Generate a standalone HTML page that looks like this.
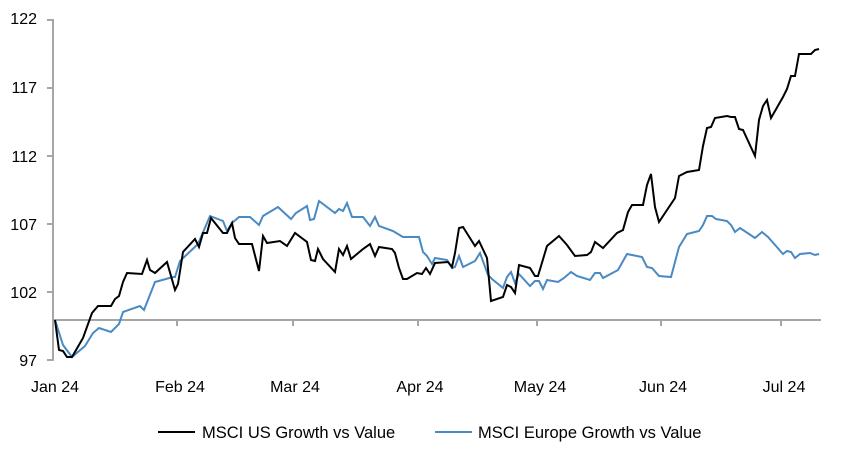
<!DOCTYPE html>
<html><head><style>body{margin:0;background:#fff}svg{display:block}text{font-family:"Liberation Sans",Arial,sans-serif;font-size:16px;fill:#000}</style></head><body>
<svg width="852" height="462" viewBox="0 0 852 462">
<g stroke="#a6a6a6" stroke-width="2" fill="none">
<line x1="53" y1="19" x2="53" y2="361"/>
<line x1="47" y1="20" x2="53" y2="20"/><line x1="47" y1="88" x2="53" y2="88"/><line x1="47" y1="156" x2="53" y2="156"/><line x1="47" y1="224" x2="53" y2="224"/><line x1="47" y1="292" x2="53" y2="292"/><line x1="47" y1="360" x2="53" y2="360"/>
<line x1="53" y1="320" x2="821" y2="320"/>
<line x1="177" y1="320" x2="177" y2="326"/><line x1="293" y1="320" x2="293" y2="326"/><line x1="418" y1="320" x2="418" y2="326"/><line x1="537" y1="320" x2="537" y2="326"/><line x1="661" y1="320" x2="661" y2="326"/><line x1="781" y1="320" x2="781" y2="326"/>
</g>
<g text-anchor="end"><text x="37" y="24">122</text><text x="37" y="93">117</text><text x="37" y="162">112</text><text x="37" y="230">107</text><text x="37" y="298">102</text><text x="37" y="366">97</text></g>
<g text-anchor="middle"><text x="55" y="392">Jan 24</text><text x="180" y="392">Feb 24</text><text x="295" y="392">Mar 24</text><text x="420" y="392">Apr 24</text><text x="540" y="392">May 24</text><text x="663" y="392">Jun 24</text><text x="784" y="392">Jul 24</text></g>
<polyline fill="none" stroke="#4a8ac4" stroke-width="2" points="55,320 63,345 72,357 85,346 93,333 99,328 111,332 119,324 123,312 140,306 144,310 155,282 173,277 175,277 180,261 198,244 210,216 223,221 227,231 232,223 239,217 250,217 259,225 263,216 278,207 291,219 296,213 307,206 310,220 314,219 319,201 335,213 339,209 343,211 347,203 352,217 363,217 370,226 375,217 379,226 393,231 403,237 419,237 423,252 427,256 432,264 435,258 447,260 452,268 455,267 459,256 463,267 475,261 480,253 488,275 492,279 503,288 507,277 511,272 515,283 519,274 530,286 535,281 539,281 543,289 547,280 558,282 564,278 571,272 577,276 590,280 595,273 600,273 603,278 618,270 627,254 642,257 647,267 652,268 659,276 671,277 679,247 687,234 699,231 703,225 707,216 712,216 716,219 727,221 731,225 735,232 740,228 755,238 762,232 768,237 783,254 787,251 791,252 795,258 800,254 810,253 815,255 819,254"/>
<polyline fill="none" stroke="#000" stroke-width="2" points="55,320 59,350 63,351 67,357 72,357 83,338 92,313 98,306 111,306 115,299 119,296 123,282 127,273 142,274 147,260 150,270 155,273 167,262 175,290 178,284 183,252 195,239 199,247 203,233 207,233 211,218 223,233 227,233 232,223 235,238 239,244 252,244 259,271 263,236 267,243 280,241 287,246 295,233 307,242 311,260 315,261 318,249 323,259 335,272 339,249 343,255 347,246 351,259 363,249 370,244 375,256 379,247 392,249 395,253 399,268 403,279 407,279 417,273 422,274 426,268 430,274 435,263 448,262 452,267 455,253 459,228 463,227 475,246 479,241 487,258 491,301 503,297 507,285 511,287 515,293 519,265 530,268 535,276 538,276 547,246 559,236 567,245 575,256 587,255 591,252 595,242 603,248 617,233 623,230 628,212 632,205 643,205 647,185 651,174 655,207 659,222 675,198 679,176 687,172 699,170 703,146 707,128 711,127 715,118 727,116 731,117 735,117 739,129 743,130 755,156 759,120 763,106 767,100 771,118 783,97 787,89 791,76 795,76 799,54 811,54 815,50 819,49"/>
<line x1="158" y1="432" x2="195" y2="432" stroke="#000" stroke-width="2"/>
<text x="202" y="438" style="font-size:16.5px">MSCI US Growth vs Value</text>
<line x1="435" y1="432" x2="472" y2="432" stroke="#4a8ac4" stroke-width="2"/>
<text x="478" y="438" style="font-size:16.5px">MSCI Europe Growth vs Value</text>
</svg></body></html>
